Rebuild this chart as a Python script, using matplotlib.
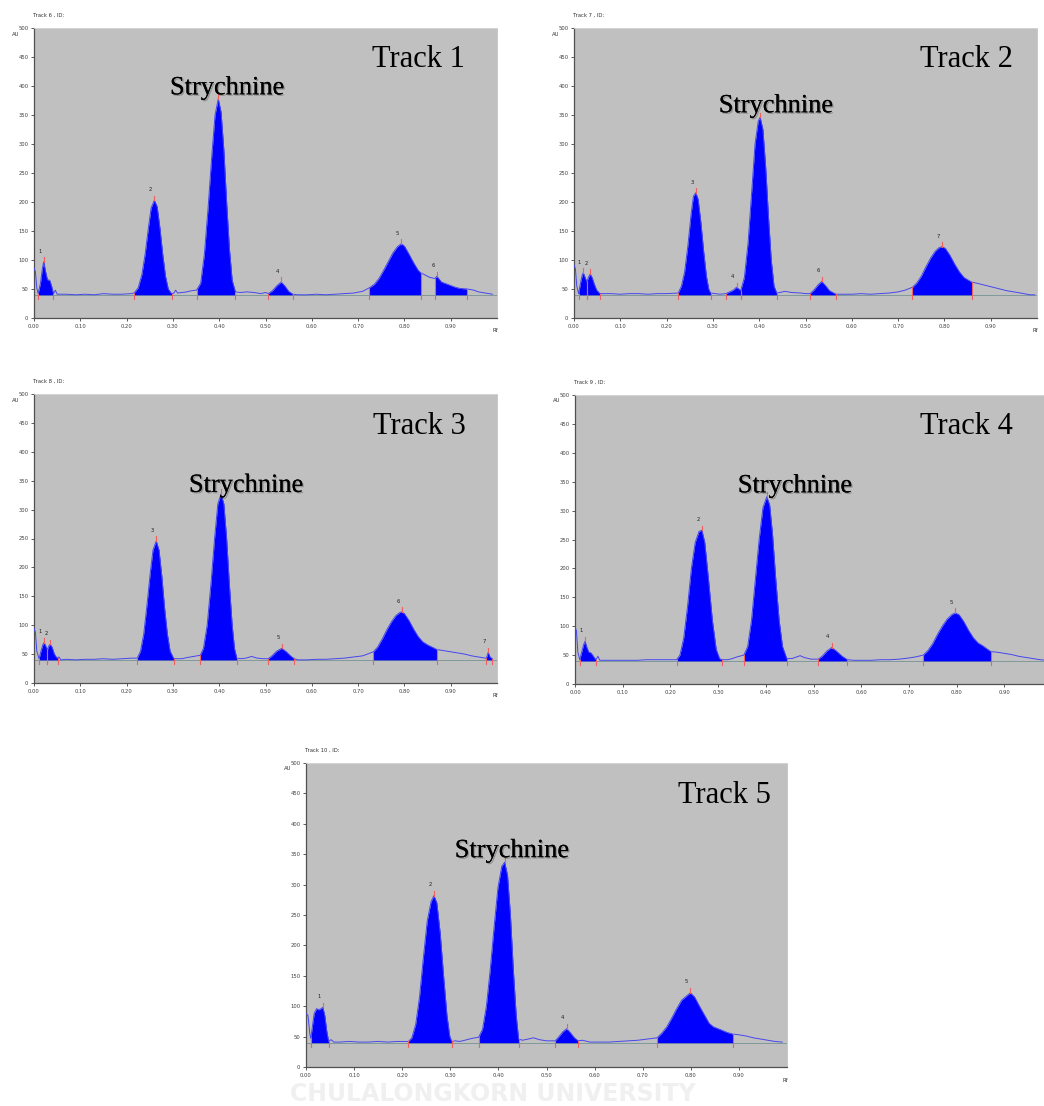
"""HPTLC densitograms of five tracks, strychnine peak marked."""
import numpy as np
import matplotlib
matplotlib.use("Agg")
import matplotlib.pyplot as plt
import matplotlib.patheffects as pe

# ---- data (Rf, AU) ---------------------------------------------------------
BASELINE = 40

T1_RF = [0.000, 0.003, 0.006, 0.009, 0.014, 0.018, 0.021, 0.025, 0.029, 0.034,
         0.038, 0.042, 0.046, 0.050, 0.07, 0.09, 0.11, 0.13, 0.15, 0.17, 0.19,
         0.21, 0.216, 0.225, 0.233, 0.240, 0.247, 0.253, 0.260, 0.266, 0.272,
         0.278, 0.284, 0.290, 0.297, 0.302, 0.306, 0.310, 0.32, 0.33, 0.34,
         0.351, 0.360, 0.368, 0.376, 0.384, 0.391, 0.398, 0.404, 0.410, 0.416,
         0.422, 0.428, 0.435, 0.445, 0.46, 0.475, 0.49, 0.500, 0.506, 0.515,
         0.525, 0.534, 0.542, 0.550, 0.559, 0.57, 0.59, 0.61, 0.63, 0.65, 0.67,
         0.69, 0.71, 0.724, 0.735, 0.745, 0.755, 0.765, 0.775, 0.785, 0.793,
         0.800, 0.810, 0.820, 0.830, 0.835, 0.845, 0.855, 0.866, 0.870, 0.880,
         0.890, 0.900, 0.910, 0.920, 0.936, 0.95, 0.96, 0.975, 0.99]
T1_AU = [86, 80, 52, 42, 60, 85, 97, 80, 66, 65,
         55, 42, 48, 41, 41, 40, 41, 40, 42, 41, 41,
         42, 43, 52, 75, 110, 155, 190, 203, 192, 155,
         110, 72, 50, 42, 43, 48, 43, 44, 45, 47,
         48, 60, 110, 190, 280, 350, 378, 355, 290, 200,
         120, 65, 45, 44, 45, 44, 42, 44, 42, 47,
         56, 62, 55, 46, 41, 40, 40, 41, 40, 41, 42,
         43, 46, 52, 58, 68, 82, 97, 112, 123, 128,
         124, 110, 95, 82, 78, 74, 70, 68, 72, 62,
         59, 56, 53, 51, 50, 48, 45, 43, 41]
# (number, start, apex, end)
T1_PEAKS = [(1, 0.009, 0.021, 0.042), (2, 0.216, 0.260, 0.297),
            (3, 0.351, 0.398, 0.435), (4, 0.506, 0.534, 0.559),
            (5, 0.724, 0.793, 0.835), (6, 0.866, 0.870, 0.936)]

T2_RF = [0.000, 0.003, 0.006, 0.010, 0.014, 0.018, 0.020, 0.024, 0.028, 0.031,
         0.035, 0.039, 0.044, 0.049, 0.056, 0.065, 0.08, 0.10, 0.12, 0.14,
         0.16, 0.18, 0.20, 0.225, 0.232, 0.239, 0.246, 0.253, 0.258, 0.263,
         0.268, 0.274, 0.280, 0.286, 0.291, 0.295, 0.305, 0.315, 0.328, 0.336,
         0.344, 0.351, 0.356, 0.360, 0.368, 0.376, 0.384, 0.391, 0.398, 0.402,
         0.408, 0.414, 0.420, 0.426, 0.432, 0.438, 0.445, 0.455, 0.47, 0.49,
         0.50, 0.510, 0.518, 0.527, 0.535, 0.543, 0.552, 0.566, 0.58, 0.60,
         0.62, 0.64, 0.66, 0.68, 0.70, 0.715, 0.731, 0.740, 0.750, 0.760,
         0.770, 0.780, 0.788, 0.795, 0.802, 0.812, 0.822, 0.832, 0.842, 0.850,
         0.859, 0.875, 0.89, 0.905, 0.92, 0.935, 0.95, 0.965, 0.985, 0.995]
T2_AU = [91, 85, 55, 42, 60, 75, 78, 70, 62, 70,
         76, 70, 58, 48, 42, 42, 42, 41, 42, 42,
         41, 42, 42, 43, 55, 80, 125, 180, 210, 216,
         205, 165, 115, 72, 50, 43, 42, 41, 42, 45,
         48, 53, 50, 47, 70, 130, 220, 300, 340, 346,
         325, 260, 175, 100, 55, 43, 44, 46, 44, 43,
         42, 42, 48, 57, 63, 56, 47, 41, 41, 41,
         42, 41, 42, 43, 45, 48, 53, 60, 72, 88,
         103, 115, 121, 123, 120, 108, 93, 80, 70, 66,
         62, 59, 56, 53, 50, 47, 45, 43, 40, 40]
T2_PEAKS = [(1, 0.010, 0.020, 0.028), (2, 0.028, 0.035, 0.056),
            (3, 0.225, 0.263, 0.295), (4, 0.328, 0.351, 0.360),
            (5, 0.360, 0.402, 0.438), (6, 0.510, 0.535, 0.566),
            (7, 0.731, 0.795, 0.859)]

T3_RF = [0.000, 0.003, 0.006, 0.011, 0.015, 0.019, 0.022, 0.026, 0.029, 0.032,
         0.035, 0.039, 0.044, 0.048, 0.051, 0.054, 0.058, 0.07, 0.09, 0.11,
         0.13, 0.15, 0.17, 0.19, 0.21, 0.223, 0.230, 0.237, 0.244, 0.251,
         0.257, 0.264, 0.270, 0.276, 0.282, 0.288, 0.294, 0.302, 0.31, 0.32,
         0.33, 0.345, 0.359, 0.366, 0.374, 0.382, 0.390, 0.397, 0.404, 0.410,
         0.416, 0.422, 0.428, 0.433, 0.438, 0.445, 0.458, 0.470, 0.482, 0.495,
         0.506, 0.514, 0.524, 0.535, 0.545, 0.554, 0.562, 0.57, 0.59, 0.61,
         0.63, 0.65, 0.67, 0.69, 0.71, 0.720, 0.733, 0.742, 0.752, 0.762,
         0.772, 0.782, 0.790, 0.794, 0.800, 0.810, 0.820, 0.830, 0.840, 0.850,
         0.860, 0.870, 0.885, 0.90, 0.915, 0.93, 0.945, 0.96, 0.975, 0.977,
         0.981, 0.985, 0.990]
T3_AU = [95, 88, 55, 42, 55, 66, 70, 63, 58, 64,
         67, 62, 50, 45, 43, 45, 40, 41, 40, 41,
         41, 42, 41, 42, 43, 43, 55, 85, 135, 190,
         230, 246, 230, 185, 130, 85, 55, 42, 42, 42,
         44, 46, 48, 60, 100, 170, 250, 310, 327, 310,
         250, 170, 100, 60, 43, 42, 43, 46, 43, 42,
         42, 47, 55, 60, 54, 47, 42, 40, 40, 41,
         41, 42, 43, 45, 47, 50, 54, 62, 76, 92,
         106, 117, 122, 123, 120, 108, 93, 80, 71, 66,
         62, 58, 56, 54, 52, 50, 47, 45, 43, 43,
         53, 45, 42]
T3_PEAKS = [(1, 0.011, 0.022, 0.029), (2, 0.029, 0.035, 0.051),
            (3, 0.223, 0.264, 0.302), (4, 0.359, 0.404, 0.438),
            (5, 0.506, 0.535, 0.562), (6, 0.733, 0.794, 0.870),
            (7, 0.977, 0.981, 0.990)]

T4_RF = [0.000, 0.003, 0.006, 0.010, 0.014, 0.018, 0.021, 0.025, 0.029, 0.033,
         0.037, 0.041, 0.044, 0.048, 0.052, 0.07, 0.09, 0.11, 0.13, 0.15,
         0.17, 0.19, 0.213, 0.220, 0.228, 0.236, 0.244, 0.252, 0.260, 0.266,
         0.272, 0.280, 0.288, 0.296, 0.303, 0.308, 0.32, 0.33, 0.34, 0.354,
         0.362, 0.370, 0.378, 0.386, 0.394, 0.402, 0.408, 0.414, 0.421, 0.428,
         0.435, 0.444, 0.455, 0.465, 0.472, 0.480, 0.495, 0.510, 0.518, 0.528,
         0.538, 0.548, 0.560, 0.571, 0.585, 0.60, 0.62, 0.64, 0.66, 0.68,
         0.70, 0.715, 0.730, 0.740, 0.750, 0.760, 0.770, 0.780, 0.790, 0.797,
         0.805, 0.815, 0.825, 0.835, 0.845, 0.855, 0.865, 0.872, 0.885, 0.90,
         0.915, 0.93, 0.945, 0.96, 0.975, 0.99]
T4_AU = [99, 92, 55, 42, 55, 68, 74, 63, 55, 54,
         50, 45, 42, 48, 41, 41, 41, 41, 41, 42,
         42, 42, 42, 50, 80, 135, 200, 245, 264, 266,
         245, 180, 110, 60, 44, 42, 42, 44, 47, 50,
         65, 110, 180, 250, 305, 324, 310, 260, 180, 110,
         65, 44, 44, 47, 49, 46, 43, 43, 48, 57,
         63, 57, 48, 42, 41, 41, 41, 42, 42, 43,
         45, 47, 50, 58, 70, 86, 100, 112, 120, 123,
         120, 108, 93, 80, 71, 66, 60, 56, 55, 53,
         51, 48, 46, 44, 42, 41]
T4_PEAKS = [(1, 0.010, 0.021, 0.044), (2, 0.213, 0.266, 0.308),
            (3, 0.354, 0.402, 0.444), (4, 0.510, 0.538, 0.571),
            (5, 0.730, 0.797, 0.872)]

T5_RF = [0.000, 0.004, 0.008, 0.010, 0.013, 0.017, 0.022, 0.027, 0.031, 0.035,
         0.039, 0.043, 0.047, 0.052, 0.058, 0.07, 0.09, 0.11, 0.13, 0.15,
         0.17, 0.19, 0.213, 0.220, 0.228, 0.236, 0.244, 0.252, 0.260, 0.266,
         0.272, 0.279, 0.286, 0.293, 0.299, 0.303, 0.31, 0.32, 0.33, 0.345,
         0.359, 0.367, 0.375, 0.383, 0.391, 0.399, 0.407, 0.413, 0.419, 0.425,
         0.431, 0.437, 0.442, 0.45, 0.462, 0.473, 0.485, 0.50, 0.518, 0.526,
         0.534, 0.542, 0.550, 0.558, 0.566, 0.575, 0.59, 0.61, 0.63, 0.65,
         0.67, 0.69, 0.71, 0.730, 0.740, 0.750, 0.760, 0.770, 0.781, 0.790,
         0.799, 0.808, 0.818, 0.828, 0.838, 0.847, 0.860, 0.875, 0.888, 0.90,
         0.915, 0.93, 0.945, 0.96, 0.975, 0.99]
T5_AU = [88, 85, 55, 47, 65, 88, 96, 94, 96, 98,
         85, 60, 42, 45, 41, 41, 42, 41, 41, 42,
         41, 42, 42, 48, 70, 115, 180, 240, 272, 282,
         270, 220, 150, 85, 50, 42, 43, 42, 44, 47,
         49, 62, 100, 160, 230, 295, 330, 337, 315, 250,
         160, 85, 46, 44, 46, 48, 45, 43, 43, 50,
         58, 63, 56, 48, 43, 44, 41, 41, 41, 42,
         43, 44, 46, 48, 56, 66, 80, 95, 110, 116,
         122, 115, 100, 86, 72, 66, 62, 57, 54, 53,
         51, 48, 46, 44, 42, 41]
T5_PEAKS = [(1, 0.010, 0.035, 0.047), (2, 0.213, 0.266, 0.303),
            (3, 0.359, 0.413, 0.442), (4, 0.518, 0.542, 0.566),
            (5, 0.730, 0.799, 0.888)]

TRACK_IDS = [6, 7, 8, 9, 10]
TRACK_NAMES = ["Track 1", "Track 2", "Track 3", "Track 4", "Track 5"]
STRYCHNINE_PEAK = [3, 5, 4, 3, 3]

# ---- layout (pixels in a 1044 x 1106 canvas) --------------------------------
W, H = 1044, 1106
# left, top, right, bottom -- track 4 runs off the right edge like the scan
BOXES = [(34, 28, 497, 318), (574, 28, 1037, 318), (34, 394, 497, 683),
         (575, 395, 1052, 684), (306, 763, 787, 1067)]
SHOW_RF = [True, True, True, False, True]
# where the big labels sit (Rf, AU)
NAME_POS = [(0.93, 445), (0.948, 445), (0.933, 443), (0.918, 445), (0.967, 447)]
STRY_POS = [(0.417, 396), (0.436, 365), (0.458, 341), (0.461, 342), (0.428, 355)]

GREY_BG = "#c0c0c0"
LINE_BLUE = "#4646f0"
FILL_BLUE = "#0000ff"
MARK_RED = "#f06060"
TICK_GREY = "#404040"


def draw_track(fig, box, rf, au, peaks, track_id, name, name_pos, stry_pos,
               stry, show_rf):
    l, t, r, b = box
    ax = fig.add_axes([l / W, 1 - b / H, (r - l) / W, (b - t) / H])
    ax.set_facecolor(GREY_BG)
    rf = np.asarray(rf, dtype=float)
    au = np.asarray(au, dtype=float)

    ax.axhline(BASELINE, color="#7f9a9a", lw=0.7, zorder=1)
    for num, start, apex, end in peaks:
        mask = (rf >= start) & (rf <= end)
        ax.fill_between(rf[mask], BASELINE, au[mask], color=FILL_BLUE, lw=0, zorder=2)
    ax.plot(rf, au, color=LINE_BLUE, lw=0.7, zorder=3)

    # integration marks: edges down past the baseline, small tick over the apex
    for num, start, apex, end in peaks:
        for edge in (start, end):
            top = np.interp(edge, rf, au)
            ax.plot([edge, edge], [BASELINE - 7, top], color=MARK_RED, lw=0.8, zorder=4)
        top = np.interp(apex, rf, au)
        ax.plot([apex, apex], [top, top + 8], color=MARK_RED, lw=0.8, zorder=4)
        if num != stry:
            ax.text(apex - 0.008, top + 14, str(num), fontsize=3.8,
                    color="#202020", ha="center", va="bottom", zorder=5)

    ax.set_xlim(0, 1.0)
    ax.set_ylim(0, 500)
    ax.set_xticks(np.arange(0, 0.95, 0.1))
    ax.set_xticklabels([f"{v:.2f}" for v in np.arange(0, 0.95, 0.1)])
    ax.set_yticks(np.arange(0, 501, 50))
    ax.tick_params(labelsize=3.8, colors=TICK_GREY, length=2.5, width=0.6, pad=1.5)
    for side in ("left", "bottom"):
        ax.spines[side].set_color("#505050")
        ax.spines[side].set_linewidth(0.9)
    ax.spines["top"].set_color("#d8d8d8")
    ax.spines["top"].set_linewidth(0.6)
    ax.spines["right"].set_color("#a8c8c8")
    ax.spines["right"].set_linewidth(0.6)

    fig.text((l - 1) / W, 1 - (t - 13) / H, f"Track {track_id} , ID:",
             fontsize=3.8, color="#303030", va="center")
    fig.text((l - 22) / W, 1 - (t + 6) / H, "AU", fontsize=3.8,
             color="#303030", va="center")
    if show_rf:
        ax.text(0.99, -0.035, "Rf", transform=ax.transAxes, fontsize=3.8,
                color="#303030", ha="left", va="top")

    ax.text(name_pos[0], name_pos[1], name, family="Liberation Serif",
            fontsize=22, ha="right", va="center", zorder=6)
    ax.text(stry_pos[0], stry_pos[1], "Strychnine", family="Liberation Serif",
            fontsize=19, ha="center", va="center", zorder=6,
            path_effects=[pe.withSimplePatchShadow(offset=(1, -1), alpha=0.25),
                          pe.Normal()])
    return ax


fig = plt.figure(figsize=(W / 100, H / 100), dpi=100)
fig.patch.set_facecolor("white")

# faint watermark under the last panel
fig.text(493 / W, 1 - 1094 / H, "CHULALONGKORN UNIVERSITY", fontsize=17,
         fontweight="bold", color="#f0f0f0", ha="center", va="center", zorder=-1)

tracks = [(T1_RF, T1_AU, T1_PEAKS), (T2_RF, T2_AU, T2_PEAKS),
          (T3_RF, T3_AU, T3_PEAKS), (T4_RF, T4_AU, T4_PEAKS),
          (T5_RF, T5_AU, T5_PEAKS)]
for i, (rf, au, peaks) in enumerate(tracks):
    draw_track(fig, BOXES[i], rf, au, peaks, TRACK_IDS[i], TRACK_NAMES[i],
               NAME_POS[i], STRY_POS[i], STRYCHNINE_PEAK[i], SHOW_RF[i])

fig.savefig("out.png", dpi=100)
